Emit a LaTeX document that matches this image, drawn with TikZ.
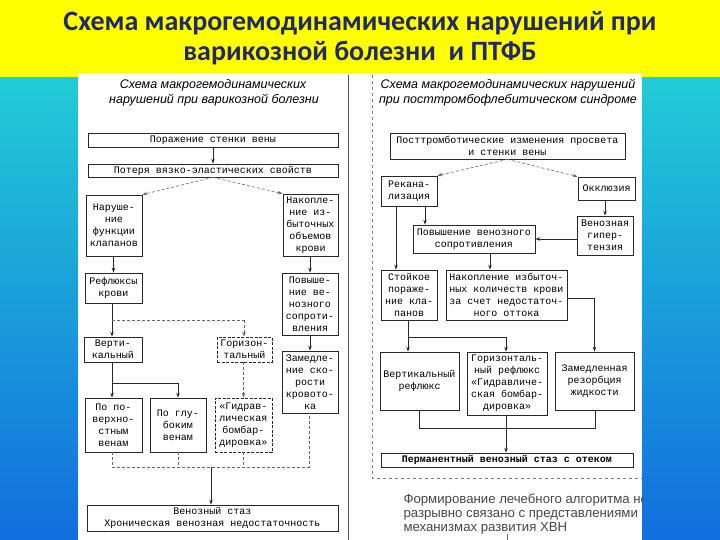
\documentclass[tikz,border=0pt]{standalone}
\usepackage{fontspec}
\setmainfont{Liberation Sans}
\newfontfamily\titlefont{Carlito}
\newfontfamily\boxfont{Liberation Mono}
\usetikzlibrary{arrows.meta}
\definecolor{titleblue}{RGB}{35,40,110}
\definecolor{slidetop}{RGB}{34,204,214}
\definecolor{slidebot}{RGB}{18,110,222}
\definecolor{slidey}{RGB}{255,255,0}
\definecolor{ink}{RGB}{40,40,40}
\begin{document}
\begin{tikzpicture}[x=1pt,y=-1pt,
    box/.style={draw=ink,line width=0.7pt,align=center,inner sep=1pt,
      font=\boxfont\fontsize{10}{12}\selectfont},
    dbox/.style={box,dash pattern=on 3pt off 1.5pt},
    con/.style={draw=ink,line width=0.7pt},
    dcon/.style={draw=ink!70,line width=0.6pt,dash pattern=on 3pt off 2pt},
    head/.style={font=\itshape\fontsize{12.5}{14}\selectfont},
    >={Stealth[length=5pt,width=3.5pt]}]
    \useasboundingbox (0,0) rectangle (720,540);

    % фон слайда
    \shade[top color=slidetop,bottom color=slidebot] (0,75) rectangle (720,540);
    \fill[slidey] (0,0) rectangle (720,77);
    \fill[white] (78,73) rectangle (642,540);
    \node[font=\titlefont\bfseries\fontsize{28}{30}\selectfont,text=titleblue] (t1) at (360,23)
        {Схема макрогемодинамических нарушений при};
    \node[font=\titlefont\bfseries\fontsize{28}{30}\selectfont,text=titleblue] (t2) at (360,53)
        {варикозной болезни \ и ПТФБ};

    % разделитель и рамка правой схемы
    \draw[ink!80,line width=0.6pt] (348,75) -- (348,540);
    \draw[ink!60,line width=0.6pt,dashed] (372,75) -- (372,478) -- (642,478);

    % левая схема
    \node[head] (hl1) at (213,85) {Схема макрогемодинамических};
    \node[head] (hl2) at (214,100) {нарушений при варикозной болезни};
    \node[box,minimum width=250,minimum height=14] (pv) at (213,140) {Поражение стенки вены};
    \node[box,minimum width=250,minimum height=13] (pot) at (213,170.5) {Потеря вязко-эластических свойств};
    \node[box,minimum width=56,minimum height=61] (nar) at (114,225.5) {Наруше-\\ние\\функции\\клапанов};
    \node[box,minimum width=55,minimum height=62] (nak) at (310.5,225) {Накопле-\\ние из-\\быточных\\объемов\\крови};
    \node[box,minimum width=57,minimum height=30] (ref) at (113.5,288) {Рефлюксы\\крови};
    \node[box,minimum width=56,minimum height=62] (pov) at (310,304) {Повыше-\\ние ве-\\нозного\\сопроти-\\вления};
    \node[box,minimum width=56,minimum height=62] (zam) at (310,382) {Замедле-\\ние ско-\\рости\\кровото-\\ка};
    \node[box,minimum width=58,minimum height=25] (ver) at (113,349.5) {Верти-\\кальный};
    \node[dbox,minimum width=55,minimum height=25] (gor) at (244.5,349.5) {Горизон-\\тальный};
    \node[box,minimum width=57,minimum height=54] (ppv) at (113.5,425) {По по-\\верхно-\\стным\\венам};
    \node[box,minimum width=56,minimum height=54] (pgv) at (178,425) {По глу-\\боким\\венам};
    \node[dbox,minimum width=57,minimum height=54] (gid) at (243.5,425) {«Гидрав-\\лическая\\бомбар-\\дировка»};
    \node[box,minimum width=251,minimum height=26] (vs) at (212.5,518)
        {Венозный стаз\\Хроническая венозная недостаточность};

    \draw[con,->] (pv) -- (pot);
    \draw[dcon,->] (pot.south) -- (nar.north east);
    \draw[dcon,->] (pot.south) -- (nak.north west);
    \draw[con,->] (ref.north |- nar.south) -- (ref.north);
    \draw[con,->] (pov.north |- nak.south) -- (pov.north);
    \draw[con,->] (pov) -- (zam);
    \coordinate (jref) at (112,320);
    \coordinate (jgor) at (244,320);
    \draw[con] (jref |- ref.south) -- (jref);
    \draw[con,->] (jref) -- (jref |- ver.north);
    \draw[dcon] (jref) -- (jgor);
    \draw[dcon,->] (jgor) -- (jgor |- gor.north);
    \coordinate (jver) at (112,383);
    \coordinate (jgl) at (178,383);
    \draw[con] (jver |- ver.south) -- (jver) -- (jgl);
    \draw[con,->] (jver) -- (jver |- ppv.north);
    \draw[con,->] (jgl) -- (jgl |- pgv.north);
    \draw[dcon,->] (gid.north |- gor.south) -- (gid.north);
    \coordinate (b1) at (112,467);
    \coordinate (b4) at (309,467);
    \coordinate (bm) at (211,467);
    \draw[dcon] (b1 |- ppv.south) -- (b1) -- (b4) -- (b4 |- zam.south);
    \draw[dcon] (pgv.south) -- (pgv.south |- b1);
    \draw[dcon] (gid.south) -- (gid.south |- b1);
    \draw[con,->] (bm) -- (bm |- vs.north);

    % правая схема
    \node[head] (hr1) at (508,85) {Схема макрогемодинамических нарушений};
    \node[head] (hr2) at (508,100) {при посттромбофлебитическом синдроме};
    \node[box,minimum width=235,minimum height=26] (pt) at (507.5,146)
        {Посттромботические изменения просвета\\и стенки вены};
    \node[box,minimum width=56,minimum height=30] (rek) at (409,191) {Рекана-\\лизация};
    \node[box,minimum width=57,minimum height=23] (okk) at (606.5,188.5) {Окклюзия};
    \node[box,minimum width=122,minimum height=28] (povs) at (474,239) {Повышение венозного\\сопротивления};
    \node[box,minimum width=56,minimum height=39] (vg) at (605,235.5) {Венозная\\гипер-\\тензия};
    \node[box,minimum width=56,minimum height=50] (sto) at (409,295) {Стойкое\\пораже-\\ние кла-\\панов};
    \node[box,minimum width=121,minimum height=50] (nakr) at (506.5,295)
        {Накопление избыточ-\\ных количеств крови\\за счет недостаточ-\\ного оттока};
    \node[box,minimum width=79,minimum height=58] (vr) at (419.5,381) {Вертикальный\\рефлюкс};
    \node[box,minimum width=80,minimum height=63] (gr) at (507,383.5)
        {Горизонталь-\\ный рефлюкс\\«Гидравличе-\\ская бомбар-\\дировка»};
    \node[box,minimum width=79,minimum height=58] (zr) at (594.5,381) {Замедленная\\резорбция\\жидкости};
    \node[box,minimum width=252,minimum height=14,font=\boxfont\bfseries\fontsize{10}{12}\selectfont]
        (perm) at (507,460) {Перманентный венозный стаз с отеком};

    \draw[dcon,->] (pt.south) -- (rek.north east);
    \draw[dcon,->] (pt.south) -- (okk.north west);
    \draw[con,->] ([xshift=-13]rek.south) -- ([xshift=-13]rek.south |- sto.north);
    \draw[con,->] ([xshift=16]rek.south) -- ([xshift=16]rek.south |- povs.north);
    \draw[con,->] (vg.north |- okk.south) -- (vg.north);
    \draw[con,->] (vg.west |- povs.east) -- (povs.east);
    \draw[con,->] ([xshift=16]povs.south) -- ([xshift=16]povs.south |- nakr.north);
    \draw[con,->] ([yshift=-3]nakr.east) -| (zr.north);
    \coordinate (js) at (408,337);
    \coordinate (jg) at (506,337);
    \draw[con] (js |- sto.south) -- (js) -- (jg);
    \draw[con,->] (js) -- (js |- vr.north);
    \draw[con,->] (jg) -- (jg |- gr.north);
    \coordinate (c1) at (419,428);
    \coordinate (c3) at (595,428);
    \coordinate (cm) at (506,428);
    \draw[con] (c1 |- vr.south) -- (c1) -- (c3) -- (c3 |- zr.south);
    \draw[con,->] (cm |- gr.south) -- (cm |- perm.north);

    % подпись внизу
    \begin{scope}
      \clip (372,485) rectangle (642,540);
      \node[anchor=west,text=ink!85,font=\fontsize{13.2}{14.2}\selectfont,align=left] (note) at (400,514)
          {Формирование лечебного алгоритма не\\разрывно связано с представлениями\\механизмах развития ХВН};
    \end{scope}
    \draw[ink!70,line width=0.6pt] (507,534) -- (507,540);
\end{tikzpicture}
\end{document}
